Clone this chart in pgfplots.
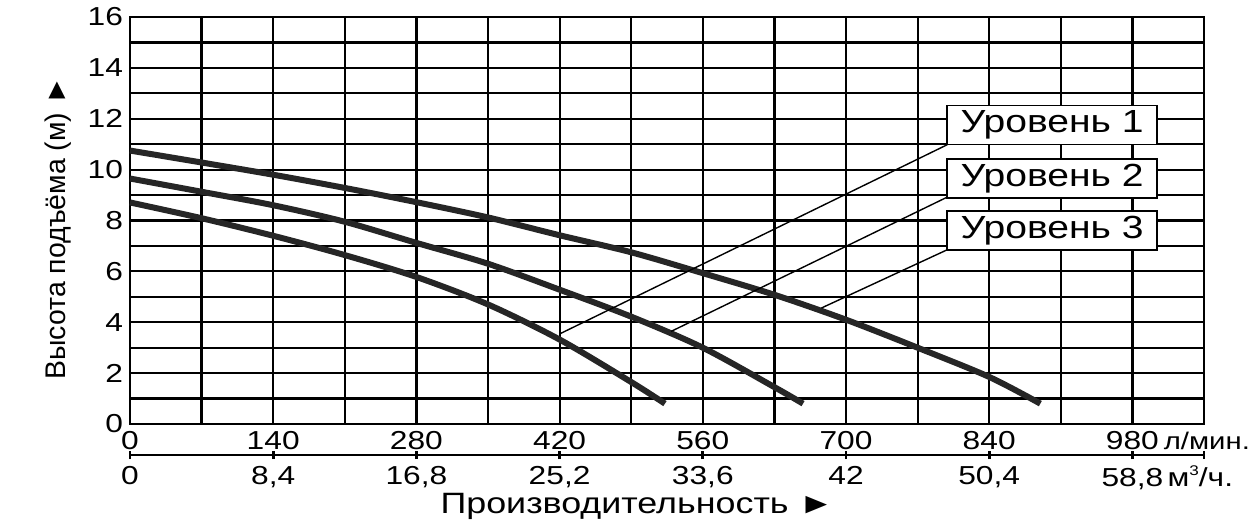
\documentclass[border=0pt]{standalone}
\usepackage{fontspec}
\setmainfont{Liberation Sans}[FakeStretch=1.22]
\newfontfamily\plainfont{Liberation Sans}
\usepackage{pgfplots}
\pgfplotsset{compat=1.18}

\begin{document}
\begin{tikzpicture}
% main grid: head (m) vs flow (l/min)
\begin{axis}[
  scale only axis, width=537pt, height=203.5pt,
  xmin=0, xmax=1050, ymin=0, ymax=16,
  xtick={0,140,...,980}, minor xtick={70,210,...,1050},
  ytick={0,2,...,16}, minor ytick={1,3,...,15},
  xticklabels={0,140,280,420,560,700,840,
    {980\rlap{\hspace{2.5pt}\fontsize{12}{14}\selectfont л/мин.}}},
  grid=both,
  major grid style={black, line width=1.1pt},
  minor grid style={black, line width=1.1pt},
  axis line style={line width=1.3pt},
  major tick length=0pt, minor tick length=0pt,
  tick label style={font=\fontsize{13}{15}\selectfont},
  /pgf/number format/assume math mode=true,
  clip=false,
]
\addplot[line width=3pt, color=black!85, smooth] coordinates {
  (0,10.75) (70,10.28) (140,9.8) (210,9.28) (280,8.72) (350,8.12) (420,7.42)
  (490,6.75) (560,5.93) (630,5.08) (700,4.1) (770,3.0) (840,1.85) (890,0.8)
};
\addplot[line width=3pt, color=black!85, smooth] coordinates {
  (0,9.65) (70,9.13) (140,8.6) (210,7.95) (280,7.12) (350,6.3) (420,5.28)
  (490,4.22) (560,3.0) (630,1.45) (658,0.8)
};
\addplot[line width=3pt, color=black!85, smooth] coordinates {
  (0,8.71) (70,8.09) (140,7.4) (210,6.64) (280,5.78) (350,4.7) (420,3.32)
  (490,1.65) (523,0.8)
};

% leader lines and labels
\draw[line width=0.7pt] (axis cs:420,3.54) -- (axis cs:799,10.98);
\draw[line width=0.7pt] (axis cs:529,3.64) -- (axis cs:799,8.92);
\draw[line width=0.7pt] (axis cs:676,4.56) -- (axis cs:799,6.85);
\tikzset{lvl/.style={draw=black, fill=white, line width=0.8pt, inner sep=0pt,
  minimum width=105pt, minimum height=19.5pt, font=\fontsize{16}{18}\selectfont}}
\node[lvl] at (axis cs:901.5,11.755) {Уровень 1};
\node[lvl] at (axis cs:901.5,9.65) {Уровень 2};
\node[lvl] at (axis cs:901.5,7.6) {Уровень 3};

\node[rotate=90, font=\plainfont\fontsize{14.2}{16}\selectfont]
  at ([xshift=-36pt]axis cs:0,7.7) {Высота подъёма (м) ►};
\node[anchor=base, font=\fontsize{14.7}{17}\selectfont]
  at ([yshift=-44.5pt]axis cs:496,0) {Производительность ►};
\end{axis}

% second scale: m3/h
\begin{axis}[
  at={(0pt,-15.5pt)}, anchor=south west,
  scale only axis, width=537pt, height=5pt,
  xmin=0, xmax=1050, ymin=0, ymax=1,
  hide y axis, axis x line*=bottom,
  x axis line style={line width=1.1pt, -},
  xtick={0,140,...,980},
  xticklabels={0,{8,4},{16,8},{25,2},{33,6},42,{50,4},
    {58,8\rlap{\,м\raisebox{0.75ex}{\fontsize{7}{8}\selectfont 3}/ч.}}},
  extra x ticks={1050}, extra x tick labels={},
  tick align=center, major tick length=4pt,
  every tick/.style={black, line width=1.4pt},
  tick label style={font=\fontsize{13}{15}\selectfont},
]
\addplot[draw=none] coordinates {(0,0) (1050,1)};
\end{axis}

\pgfresetboundingbox
\path (-65pt,-50pt) rectangle (563.5pt,212pt);
\end{tikzpicture}
\end{document}
